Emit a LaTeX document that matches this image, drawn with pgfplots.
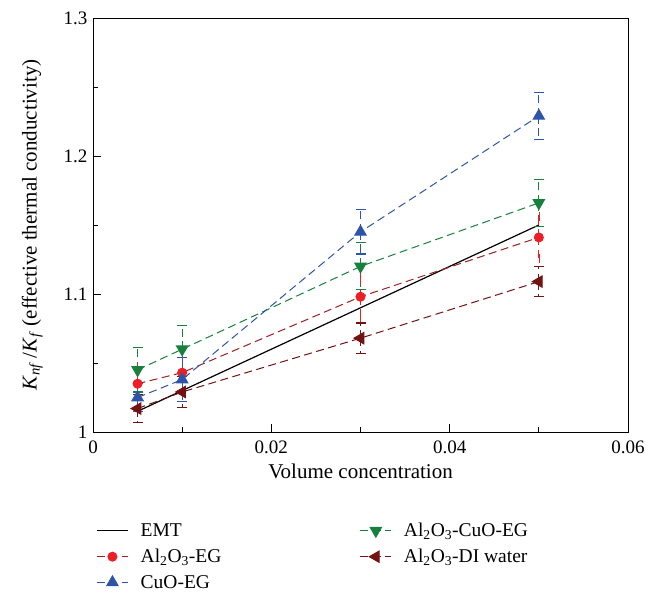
\documentclass[border=0pt]{standalone}
\usepackage{fontspec}
\setmainfont{Liberation Serif}
\usepackage{pgfplots}
\pgfplotsset{compat=1.18}
\definecolor{cred}{rgb}{0.93,0.12,0.15}
\definecolor{credline}{rgb}{0.62,0.12,0.12}
\definecolor{cblue}{rgb}{0.18,0.33,0.66}
\definecolor{cgreen}{rgb}{0.09,0.50,0.24}
\definecolor{cdred}{rgb}{0.45,0.07,0.07}
\newcommand{\ce}[1]{\makebox[217pt][l]{#1}}
\begin{document}
\begin{tikzpicture}
\path[use as bounding box] (0,0) rectangle (655pt,592pt);
\begin{axis}[
  at={(93pt,160pt)}, anchor=south west,
  scale only axis, width=535pt, height=414pt,
  xmin=0, xmax=0.06, ymin=1, ymax=1.3,
  scaled x ticks=false, scaled y ticks=false,
  xtick={0,0.02,0.04,0.06}, minor xtick={0.01,0.03,0.05},
  ytick={1,1.1,1.2,1.3}, minor ytick={1.05,1.15,1.25},
  xticklabels={0,0.02,0.04,0.06},
  yticklabels={1,1.1,1.2,1.3},
  tick pos=left, tick align=inside,
  major tick length=8pt, minor tick length=5pt,
  every tick/.style={black, line width=0.8pt},
  axis line style={line width=0.8pt},
  tick label style={font=\fontsize{19}{22}\selectfont},
  xticklabel style={yshift=-5pt},
  yticklabel style={xshift=-2pt},
  label style={font=\fontsize{21}{25}\selectfont},
  xlabel={Volume concentration},
  ylabel={\textit{K}\textsubscript{\textit{nf}}\,/\textit{K}\textsubscript{\textit{f}} (effective thermal conductivity)},
  xlabel style={yshift=-4pt},
  ylabel style={yshift=14pt},
  legend columns=2,
  legend cell align=left,
  legend style={draw=none, fill=none, at={(0.0,-0.21)}, anchor=north west,
    font=\fontsize{19.5}{23}\selectfont, row sep=7pt},
  legend image code/.code={\draw[mark repeat=2,mark phase=2] plot coordinates {(0cm,0cm)(0.55cm,0cm)(1.1cm,0cm)};\path (1.1cm+10pt,0);},
  error bars/error bar style={line width=1.1pt},
  error bars/error mark options={rotate=90, mark size=5pt, line width=1.1pt},
]
\addplot[black, line width=1.2pt, no markers] coordinates {(0.005,1.015)(0.01,1.03)(0.03,1.09)(0.05,1.15)};
\addlegendentry{\ce{EMT}}

\addplot[cgreen, line width=1pt, dash pattern=on 8pt off 4.5pt, mark=triangle*, mark size=6.5pt,
  mark options={solid, fill=cgreen, rotate=180},
  error bars/.cd, y dir=both, y explicit]
  coordinates {(0.005,1.045)+-(0,0.016)(0.01,1.060)+-(0,0.017)(0.03,1.120)+-(0,0.017)(0.05,1.166)+-(0,0.017)};
\addlegendentry{Al\textsubscript{2}O\textsubscript{3}-CuO-EG}

\addplot[credline, line width=1pt, dash pattern=on 8pt off 4.5pt, mark=*, mark size=4.5pt,
  mark options={solid, fill=cred, draw=cred},
  error bars/.cd, y dir=both, y explicit, error bar style={cred}, error mark options={cred}]
  coordinates {(0.005,1.035)+-(0,0.012)(0.01,1.043)+-(0,0.013)(0.03,1.098)+-(0,0.015)(0.05,1.141)+-(0,0.015)};
\addlegendentry{\ce{Al\textsubscript{2}O\textsubscript{3}-EG}}

\addplot[cdred, line width=1pt, dash pattern=on 8pt off 4.5pt, mark=triangle*, mark size=6.5pt,
  mark options={solid, fill=cdred, rotate=90},
  error bars/.cd, y dir=both, y explicit]
  coordinates {(0.005,1.017)+-(0,0.010)(0.01,1.029)+-(0,0.011)(0.03,1.068)+-(0,0.011)(0.05,1.109)+-(0,0.011)};
\addlegendentry{Al\textsubscript{2}O\textsubscript{3}-DI water}

\addplot[cblue, line width=1pt, dash pattern=on 8pt off 4.5pt, mark=triangle*, mark size=6.5pt,
  mark options={solid, fill=cblue},
  error bars/.cd, y dir=both, y explicit]
  coordinates {(0.005,1.025)+-(0,0.010)(0.01,1.038)+-(0,0.016)(0.03,1.145)+-(0,0.016)(0.05,1.229)+-(0,0.017)};
\addlegendentry{\ce{CuO-EG}}
\end{axis}
\end{tikzpicture}
\end{document}
